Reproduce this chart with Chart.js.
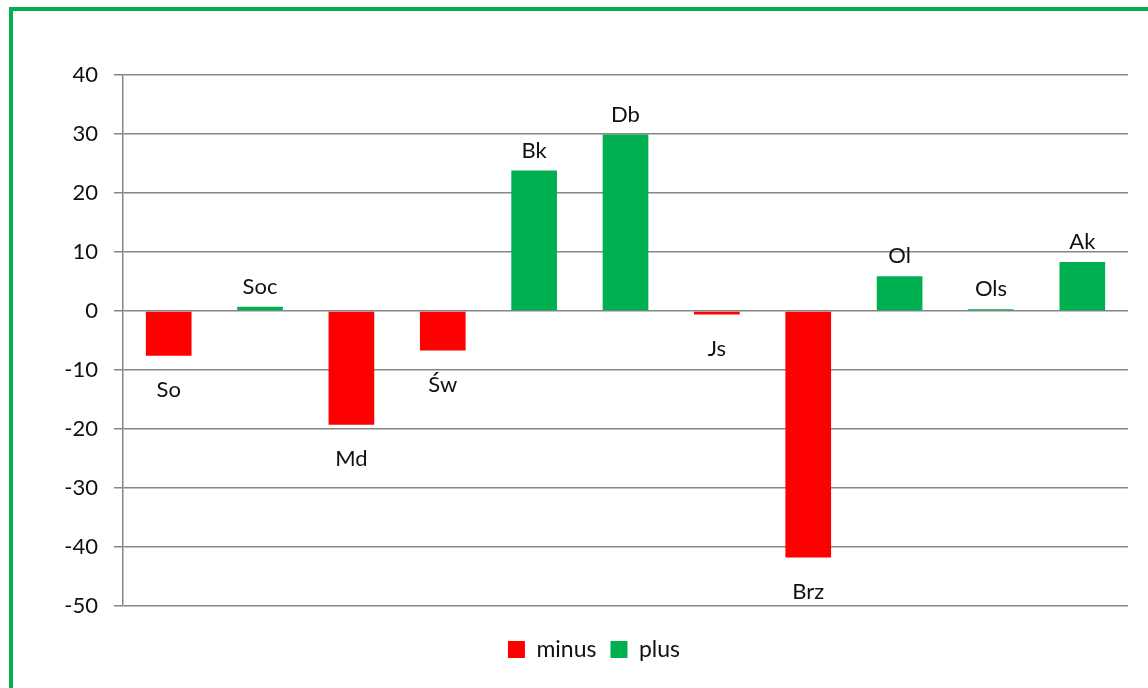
<!DOCTYPE html>
<html><head><meta charset="utf-8">
<script src="https://cdn.jsdelivr.net/npm/chart.js@4/dist/chart.umd.min.js"></script>
<style>
html,body{margin:0;padding:0;background:#fff;}
#wrap{position:relative;width:1148px;height:688px;overflow:hidden;}
#frame{position:absolute;left:9px;top:7px;width:1200px;height:800px;border:4px solid #00B050;box-sizing:border-box;}
canvas{position:absolute;left:0;top:0;}
</style></head>
<body><div id="wrap"><div id="frame"></div><canvas id="c" width="1148" height="688"></canvas></div>
<script>
const categories = ["So","Soc","Md","Św","Bk","Db","Js","Brz","Ol","Ols","Ak"];
const minusValues = [-7.6, null, -19.3, -6.7, null, null, -0.6, -41.8, null, null, null];
const plusValues = [null, 0.7, null, null, 23.8, 29.9, null, null, 5.9, 0.3, 8.3];
const yTicks = [40, 30, 20, 10, 0, -10, -20, -30, -40, -50];

const FONT = "Lato, 'Open Sans', sans-serif";

const labelPlugin = {
  id: 'catLabels',
  afterDatasetsDraw(chart) {
    const ctx = chart.ctx;
    ctx.save();
    ctx.font = "22px " + FONT;
    ctx.fillStyle = "#111";
    ctx.textAlign = "center";
    ctx.textBaseline = "middle";
    chart.data.datasets.forEach((ds, di) => {
      const meta = chart.getDatasetMeta(di);
      meta.data.forEach((bar, i) => {
        const v = ds.data[i];
        if (v === null || v === undefined) return;
        const y = v >= 0 ? bar.y - 20 : bar.y + 34;
        ctx.fillText(categories[i], bar.x, y);
      });
    });
    ctx.restore();
  }
};

new Chart(document.getElementById('c'), {
  type: 'bar',
  data: {
    labels: categories,
    datasets: [
      { label: 'minus', data: minusValues, backgroundColor: '#FF0000', borderWidth: 0 },
      { label: 'plus', data: plusValues, backgroundColor: '#00B050', borderWidth: 0 }
    ]
  },
  options: {
    responsive: false,
    animation: false,
    events: [],
    layout: { padding: { top: 75, right: 20, left: 60, bottom: 17 } },
    datasets: { bar: { barPercentage: 0.5, categoryPercentage: 1.0 } },
    plugins: {
      tooltip: { enabled: false },
      legend: {
        position: 'bottom',
        labels: { font: { family: FONT, size: 23 }, color: '#111', boxWidth: 17, boxHeight: 17, padding: 14 }
      }
    },
    scales: {
      x: {
        stacked: true,
        grid: { display: false },
        border: { display: false },
        ticks: { display: false },
        afterFit(s) { s.height = 18; }
      },
      y: {
        stacked: true,
        min: -50, max: 40,
        afterBuildTicks(s) { s.ticks = yTicks.map(v => ({ value: v })); },
        afterFit(s) { s.width = 63; },
        grid: { color: '#868686', lineWidth: 1.5, tickLength: 9 },
        border: { display: true, color: '#868686', width: 1.5 },
        ticks: { font: { family: FONT, size: 22 }, color: '#111', padding: 16 }
      }
    }
  },
  plugins: [labelPlugin]
});
</script></body></html>
